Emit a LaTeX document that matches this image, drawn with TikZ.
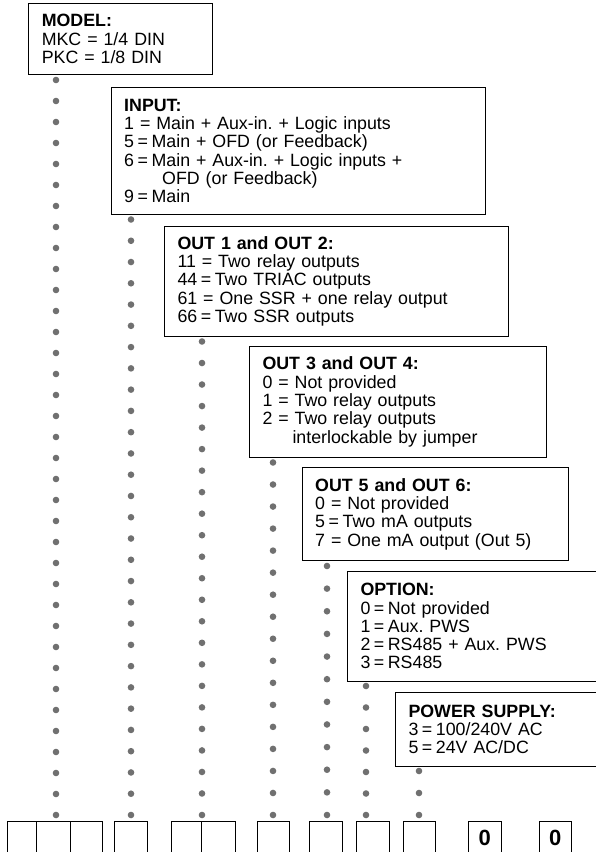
\documentclass[tikz,border=0pt]{standalone}
\usepackage{fontspec}
\setmainfont{Liberation Sans}
\usetikzlibrary{calc}
\frenchspacing
\newcommand{\eqt}{\kern0.2em=\kern0.2em}

\begin{document}
\begin{tikzpicture}[x=1pt, y=-1pt,
    infobox/.style={draw, line width=1pt, anchor=north west, align=left, inner xsep=13pt, inner ysep=0pt, font=\fontsize{17.8}{18.3}\selectfont},
    cell/.style={anchor=north west, minimum height=34pt, inner sep=0pt, font=\bfseries\fontsize{22}{22}\selectfont},
    dotfill/.style={fill=black!56}]
    \useasboundingbox (0,0) rectangle (595,852);

    % code fields, one box each
    \node[infobox, text width=157.7pt, minimum height=70.7pt] (model) at (28.3,3.3) {\textbf{MODEL:}\\MKC = 1/4 DIN\\PKC = 1/8 DIN};
    \node[infobox, text width=348.3pt, minimum height=127pt] (input) at (110.7,87) {\textbf{INPUT:}\\1 = Main + Aux-in. + Logic inputs\\5\eqt Main + OFD (or Feedback)\\6\eqt Main + Aux-in. + Logic inputs +\\\hspace*{38pt}OFD (or Feedback)\\9\eqt Main};
    \node[infobox, text width=318pt, minimum height=110.3pt] (outa) at (164,225.7) {\textbf{OUT 1 and OUT 2:}\\11 = Two relay outputs\\44\eqt Two TRIAC outputs\\61 = One SSR + one relay output\\66\eqt Two SSR outputs};
    \node[infobox, text width=271pt, minimum height=110.7pt] (outb) at (249,346) {\textbf{OUT 3 and OUT 4:}\\0 = Not provided\\1 = Two relay outputs\\2 = Two relay outputs\\\hspace*{30pt}interlockable by jumper};
    \node[infobox, text width=240pt, minimum height=93pt] (outc) at (301.7,467) {\textbf{OUT 5 and OUT 6:}\\0 = Not provided\\5\eqt Two mA outputs\\7 = One mA output (Out 5)};
    \node[infobox, text width=224pt, minimum height=110pt] (option) at (347,570.7) {\textbf{OPTION:}\\0\eqt Not provided\\1\eqt Aux. PWS\\2\eqt RS485 + Aux. PWS\\3\eqt RS485};
    \node[infobox, text width=177pt, minimum height=74.3pt] (power) at (395,691.7) {\textbf{POWER SUPPLY:}\\3\eqt 100/240V AC\\5\eqt 24V AC/DC};

    % code cells along the bottom (open at the page edge)
    \node[cell, minimum width=28.7pt] (c1) at (7.3,821) {};
    \node[cell, minimum width=34pt] (c2) at (36,821) {};
    \node[cell, minimum width=31.7pt] (c3) at (70,821) {};
    \node[cell, minimum width=32.4pt] (c4) at (114.3,821) {};
    \node[cell, minimum width=30.3pt] (c5) at (171,821) {};
    \node[cell, minimum width=33.4pt] (c6) at (201.3,821) {};
    \node[cell, minimum width=31.6pt] (c7) at (257.7,821) {};
    \node[cell, minimum width=32.7pt] (c8) at (309.3,821) {};
    \node[cell, minimum width=32.7pt] (c9) at (356,821) {};
    \node[cell, minimum width=32pt] (c10) at (403.3,821) {};
    \node[cell, minimum width=32.4pt] (c11) at (468.3,821) {0};
    \node[cell, minimum width=32pt] (c12) at (539,821) {0};
    \foreach \c in {c1,c2,c3,c4,c5,c6,c7,c8,c9,c10,c11,c12}
        \draw[line width=1pt] (\c.south west) |- (\c.north east) -- (\c.south east);

    % dotted leaders from each box down to its cells
    \coordinate (modeltop) at (56,80);     \coordinate (modelbot) at (56,815);
    \coordinate (inputtop) at (131,219.5); \coordinate (inputbot) at (131,815);
    \coordinate (outatop) at (202,341.5);  \coordinate (outabot) at (202,815);
    \coordinate (outbtop) at (273,462.5);  \coordinate (outbbot) at (273,815);
    \coordinate (outctop) at (327,566);    \coordinate (outcbot) at (327,815);
    \coordinate (optiontop) at (366,686);  \coordinate (optionbot) at (366,815);
    \coordinate (powertop) at (419,771);   \coordinate (powerbot) at (419,815);
    \foreach \s/\e/\n in {modeltop/modelbot/35, inputtop/inputbot/28, outatop/outabot/22, outbtop/outbbot/16, outctop/outcbot/11, optiontop/optionbot/6, powertop/powerbot/2}
        \foreach \k in {0,...,\n}
            \fill[dotfill] ($(\s)!\k/\n!(\e)$) circle (3.3pt);
\end{tikzpicture}
\end{document}
